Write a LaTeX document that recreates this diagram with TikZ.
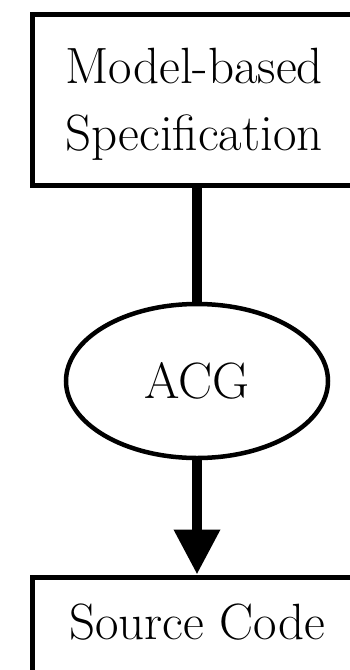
\documentclass[tikz,border=0pt]{standalone}
\usetikzlibrary{arrows.meta,shapes.geometric}
\begin{document}
\begin{tikzpicture}[x=1pt,y=-1pt,
  boxshape/.style={draw=black,line width=5pt,rectangle,inner sep=0pt},
  ellshape/.style={draw=black,line width=4.5pt,ellipse,inner sep=0pt,
    minimum width=262pt,minimum height=154pt},
  label text/.style={font=\fontsize{51}{67}\selectfont,align=center,inner sep=0pt},
  flow/.style={line width=10pt},
  flowarrow/.style={line width=10pt,-{Triangle[width=44pt,length=45pt]}}]
  \useasboundingbox (0,0) rectangle (350,670);
  \fill[white] (0,0) rectangle (350,670);
  \clip (0,0) rectangle (350,670);

  % specification box and its caption
  \node[boxshape,minimum width=328pt,minimum height=171pt] (spec) at (196,100) {};
  \node[label text] (spectext) at (194,104) {Model-based\\Specification};

  % generator
  \node[ellshape,label text] (acg) at (197,381) {ACG};

  % generated code box and its caption
  \node[boxshape,minimum width=330pt,minimum height=113pt] (src) at (197,633.5) {};
  \node[label text] (srctext) at (197,622) {Source Code};

  % connectors
  \draw[flow] (acg.north |- spec.south) -- (acg.north);
  \draw[flowarrow] (acg.south) -- (acg.south |- src.north);
\end{tikzpicture}
\end{document}
